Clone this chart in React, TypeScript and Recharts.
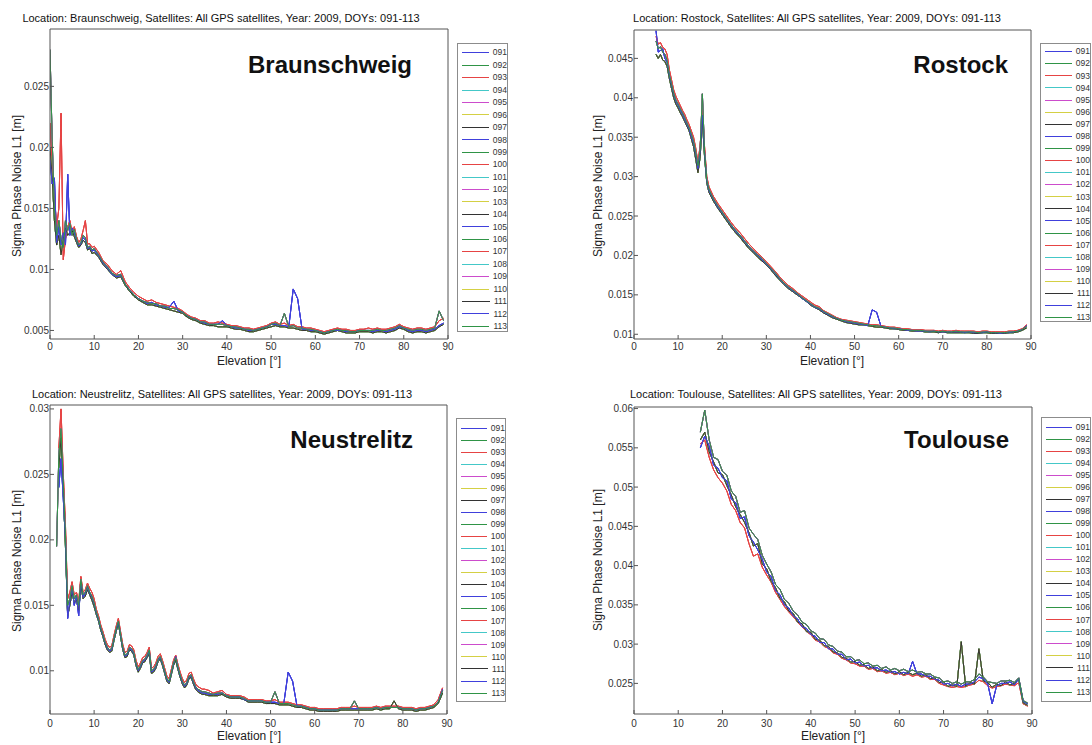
import { LineChart, Line, XAxis, YAxis, Legend } from 'recharts'

const FONT = '"Liberation Sans", Arial, sans-serif'

const DOYS = ['091', '092', '093', '094', '095', '096', '097', '098', '099', '100', '101', '102',
  '103', '104', '105', '106', '107', '108', '109', '110', '111', '112', '113']

// matlab colour cycle b g r c m y k
const LINE_COLORS = ['#4040dc', '#2f9446', '#e64444', '#44c8c8', '#cc4ccc', '#d4d044', '#333333']

// which read-off trace each day follows (days overlap almost completely)
const TRACE_OF_DOY = ['d', 'a', 'c', 'b', 'a', 'b', 'b', 'd', 'a', 'c', 'b', 'a',
  'b', 'b', 'd', 'a', 'c', 'b', 'a', 'b', 'b', 'd', 'a']

const X_TICKS = [0, 10, 20, 30, 40, 50, 60, 70, 80, 90]

// ---------- Braunschweig ----------
const bsElev = [
  0, 0.5, 1, 1.5, 2, 2.5, 3, 3.5, 4, 4.5,
  5, 5.5, 6, 6.5, 7, 7.5, 8, 8.5, 9, 9.5,
  10, 11, 12, 13, 14, 15, 16, 17, 18, 19,
  20, 21, 22, 23, 24, 25, 26, 27, 28, 29,
  30, 31, 32, 33, 34, 35, 36, 37, 38, 39,
  40, 41, 42, 43, 44, 45, 46, 47, 48, 49,
  50, 51, 52, 53, 54, 55, 56, 57, 58, 59,
  60, 61, 62, 63, 64, 65, 66, 67, 68, 69,
  70, 71, 72, 73, 74, 75, 76, 77, 78, 79,
  80, 81, 82, 83, 84, 85, 86, 87, 88, 89,
]
const bsA = [
  0.0280, 0.0205, 0.0150, 0.0128, 0.0140, 0.0125, 0.0118, 0.0140, 0.0132, 0.0138,
  0.0128, 0.0133, 0.0125, 0.0120, 0.0122, 0.0128, 0.0126, 0.0118, 0.0119, 0.0116,
  0.0117, 0.0112, 0.0106, 0.0102, 0.0097, 0.0095, 0.0096, 0.0088, 0.0083, 0.0079,
  0.0076, 0.0074, 0.0073, 0.0072, 0.0072, 0.0070, 0.0070, 0.0068, 0.0068, 0.0067,
  0.0065, 0.0062, 0.0060, 0.0059, 0.0057, 0.0057, 0.0055, 0.0055, 0.0055, 0.0055,
  0.0054, 0.0053, 0.0053, 0.0052, 0.0051, 0.0051, 0.0050, 0.0051, 0.0052, 0.0053,
  0.0055, 0.0056, 0.0054, 0.0064, 0.0053, 0.0054, 0.0052, 0.0052, 0.0051, 0.0051,
  0.0050, 0.0049, 0.0048, 0.0049, 0.0050, 0.0051, 0.0050, 0.0050, 0.0049, 0.0049,
  0.0050, 0.0050, 0.0050, 0.0050, 0.0051, 0.0050, 0.0050, 0.0051, 0.0052, 0.0054,
  0.0052, 0.0051, 0.0050, 0.0051, 0.0051, 0.0050, 0.0051, 0.0052, 0.0066, 0.0058,
]
const bsB = [
  0.0200, 0.0175, 0.0140, 0.0120, 0.0128, 0.0112, 0.0125, 0.0134, 0.0128, 0.0130,
  0.0132, 0.0127, 0.0122, 0.0118, 0.0120, 0.0124, 0.0122, 0.0116, 0.0117, 0.0113,
  0.0114, 0.0110, 0.0104, 0.0100, 0.0096, 0.0093, 0.0094, 0.0087, 0.0082, 0.0078,
  0.0075, 0.0073, 0.0071, 0.0071, 0.0070, 0.0069, 0.0068, 0.0067, 0.0066, 0.0065,
  0.0064, 0.0061, 0.0059, 0.0058, 0.0056, 0.0055, 0.0054, 0.0054, 0.0053, 0.0053,
  0.0053, 0.0052, 0.0051, 0.0051, 0.0050, 0.0049, 0.0049, 0.0050, 0.0051, 0.0052,
  0.0053, 0.0054, 0.0053, 0.0053, 0.0052, 0.0052, 0.0051, 0.0050, 0.0050, 0.0049,
  0.0049, 0.0048, 0.0047, 0.0048, 0.0049, 0.0050, 0.0049, 0.0048, 0.0048, 0.0048,
  0.0049, 0.0049, 0.0049, 0.0048, 0.0049, 0.0049, 0.0048, 0.0049, 0.0050, 0.0052,
  0.0051, 0.0049, 0.0048, 0.0049, 0.0049, 0.0048, 0.0049, 0.0050, 0.0053, 0.0055,
]
const bsC = [
  0.0220, 0.0185, 0.0160, 0.0135, 0.0150, 0.0228, 0.0108, 0.0125, 0.0135, 0.0140,
  0.0130, 0.0135, 0.0127, 0.0122, 0.0125, 0.0132, 0.0140, 0.0121, 0.0121, 0.0118,
  0.0119, 0.0114, 0.0107, 0.0104, 0.0099, 0.0096, 0.0099, 0.0090, 0.0085, 0.0081,
  0.0078, 0.0076, 0.0074, 0.0075, 0.0073, 0.0072, 0.0071, 0.0070, 0.0069, 0.0068,
  0.0066, 0.0063, 0.0061, 0.0060, 0.0058, 0.0058, 0.0056, 0.0056, 0.0057, 0.0056,
  0.0055, 0.0054, 0.0054, 0.0053, 0.0052, 0.0052, 0.0051, 0.0052, 0.0053, 0.0054,
  0.0056, 0.0057, 0.0055, 0.0056, 0.0054, 0.0055, 0.0053, 0.0053, 0.0052, 0.0052,
  0.0051, 0.0050, 0.0049, 0.0050, 0.0051, 0.0052, 0.0051, 0.0051, 0.0050, 0.0050,
  0.0051, 0.0051, 0.0052, 0.0051, 0.0052, 0.0051, 0.0051, 0.0052, 0.0053, 0.0055,
  0.0053, 0.0052, 0.0051, 0.0052, 0.0052, 0.0051, 0.0052, 0.0053, 0.0058, 0.0060,
]
const bsD = [
  0.0190, 0.0170, 0.0175, 0.0122, 0.0135, 0.0120, 0.0130, 0.0120, 0.0178, 0.0128,
  0.0134, 0.0130, 0.0124, 0.0119, 0.0121, 0.0126, 0.0124, 0.0117, 0.0118, 0.0115,
  0.0116, 0.0111, 0.0105, 0.0101, 0.0096, 0.0094, 0.0095, 0.0088, 0.0083, 0.0079,
  0.0076, 0.0074, 0.0072, 0.0073, 0.0071, 0.0070, 0.0069, 0.0069, 0.0074, 0.0066,
  0.0065, 0.0062, 0.0060, 0.0059, 0.0057, 0.0056, 0.0055, 0.0055, 0.0055, 0.0058,
  0.0054, 0.0053, 0.0052, 0.0052, 0.0051, 0.0050, 0.0050, 0.0051, 0.0052, 0.0053,
  0.0055, 0.0055, 0.0054, 0.0054, 0.0053, 0.0084, 0.0076, 0.0051, 0.0051, 0.0050,
  0.0050, 0.0049, 0.0048, 0.0049, 0.0050, 0.0050, 0.0050, 0.0049, 0.0049, 0.0049,
  0.0050, 0.0050, 0.0050, 0.0049, 0.0050, 0.0050, 0.0049, 0.0050, 0.0051, 0.0053,
  0.0052, 0.0050, 0.0049, 0.0050, 0.0050, 0.0049, 0.0050, 0.0051, 0.0054, 0.0056,
]
const bsTicks = [0.005, 0.01, 0.015, 0.02, 0.025]

// ---------- Rostock ----------
const rsElev = [
  5, 5.5, 6, 6.5, 7, 7.5, 8, 8.5, 9, 9.5,
  10, 10.5, 11, 11.5, 12, 12.5, 13, 13.5, 14, 14.5,
  15, 15.5, 16, 16.5, 17, 18, 19,
  20, 21, 22, 23, 24, 25, 26, 27, 28, 29,
  30, 31, 32, 33, 34, 35, 36, 37, 38, 39,
  40, 41, 42, 43, 44, 45, 46, 47, 48, 49,
  50, 51, 52, 53, 54, 55, 56, 57, 58, 59,
  60, 61, 62, 63, 64, 65, 66, 67, 68, 69,
  70, 71, 72, 73, 74, 75, 76, 77, 78, 79,
  80, 81, 82, 83, 84, 85, 86, 87, 88, 89,
]
const rsA = [
  0.0472, 0.0462, 0.0465, 0.0458, 0.0455, 0.0448, 0.0430, 0.0418, 0.0406, 0.0397,
  0.0392, 0.0386, 0.0381, 0.0375, 0.0368, 0.0362, 0.0354, 0.0345, 0.0331, 0.0314,
  0.0335, 0.0405, 0.0332, 0.0296, 0.0284, 0.0272, 0.0263,
  0.0255, 0.0247, 0.0239, 0.0232, 0.0226, 0.0219, 0.0212, 0.0206, 0.0201, 0.0196,
  0.0190, 0.0184, 0.0178, 0.0171, 0.0165, 0.0160, 0.0156, 0.0152, 0.0147, 0.0143,
  0.0139, 0.0135, 0.0133, 0.0129, 0.0126, 0.0123, 0.0120, 0.0118, 0.0117, 0.0116,
  0.0115, 0.0114, 0.0113, 0.0112, 0.0111, 0.0111, 0.0110, 0.0109, 0.0108, 0.0108,
  0.0107, 0.0106, 0.0106, 0.0105, 0.0105, 0.0105, 0.0104, 0.0104, 0.0104, 0.0103,
  0.0104, 0.0103, 0.0103, 0.0104, 0.0103, 0.0103, 0.0103, 0.0103, 0.0102, 0.0103,
  0.0103, 0.0102, 0.0102, 0.0102, 0.0102, 0.0103, 0.0103, 0.0104, 0.0106, 0.0110,
]
const rsB = [
  0.0455, 0.0450, 0.0455, 0.0448, 0.0446, 0.0440, 0.0425, 0.0412, 0.0400, 0.0392,
  0.0387, 0.0381, 0.0376, 0.0370, 0.0364, 0.0358, 0.0348, 0.0338, 0.0322, 0.0305,
  0.0325, 0.0372, 0.0325, 0.0292, 0.0280, 0.0269, 0.0260,
  0.0252, 0.0244, 0.0236, 0.0229, 0.0223, 0.0216, 0.0209, 0.0204, 0.0198, 0.0193,
  0.0188, 0.0182, 0.0175, 0.0169, 0.0163, 0.0158, 0.0154, 0.0150, 0.0146, 0.0142,
  0.0137, 0.0134, 0.0131, 0.0127, 0.0124, 0.0121, 0.0119, 0.0117, 0.0115, 0.0114,
  0.0113, 0.0112, 0.0112, 0.0111, 0.0110, 0.0109, 0.0109, 0.0108, 0.0107, 0.0107,
  0.0106, 0.0105, 0.0105, 0.0104, 0.0104, 0.0104, 0.0103, 0.0103, 0.0103, 0.0102,
  0.0103, 0.0102, 0.0102, 0.0102, 0.0102, 0.0102, 0.0102, 0.0101, 0.0101, 0.0102,
  0.0102, 0.0101, 0.0101, 0.0101, 0.0101, 0.0102, 0.0102, 0.0103, 0.0105, 0.0108,
]
const rsC = [
  0.0478, 0.0468, 0.0470, 0.0464, 0.0462, 0.0455, 0.0436, 0.0423, 0.0410, 0.0402,
  0.0396, 0.0390, 0.0384, 0.0379, 0.0372, 0.0366, 0.0358, 0.0350, 0.0336, 0.0318,
  0.0340, 0.0385, 0.0338, 0.0300, 0.0287, 0.0275, 0.0266,
  0.0258, 0.0250, 0.0242, 0.0235, 0.0229, 0.0222, 0.0215, 0.0209, 0.0203, 0.0198,
  0.0192, 0.0186, 0.0180, 0.0173, 0.0167, 0.0162, 0.0158, 0.0153, 0.0149, 0.0145,
  0.0141, 0.0137, 0.0135, 0.0130, 0.0127, 0.0124, 0.0121, 0.0119, 0.0118, 0.0117,
  0.0116, 0.0115, 0.0114, 0.0113, 0.0112, 0.0112, 0.0111, 0.0110, 0.0109, 0.0109,
  0.0108, 0.0107, 0.0107, 0.0106, 0.0106, 0.0106, 0.0105, 0.0105, 0.0105, 0.0104,
  0.0105, 0.0104, 0.0104, 0.0105, 0.0104, 0.0104, 0.0104, 0.0104, 0.0103, 0.0104,
  0.0104, 0.0103, 0.0103, 0.0103, 0.0103, 0.0104, 0.0104, 0.0105, 0.0107, 0.0112,
]
const rsD = [
  0.0485, 0.0458, 0.0460, 0.0462, 0.0450, 0.0445, 0.0428, 0.0416, 0.0404, 0.0395,
  0.0390, 0.0384, 0.0379, 0.0372, 0.0366, 0.0360, 0.0350, 0.0342, 0.0328, 0.0310,
  0.0332, 0.0378, 0.0330, 0.0294, 0.0282, 0.0271, 0.0261,
  0.0254, 0.0246, 0.0238, 0.0231, 0.0225, 0.0218, 0.0211, 0.0205, 0.0200, 0.0195,
  0.0189, 0.0183, 0.0177, 0.0170, 0.0164, 0.0159, 0.0155, 0.0151, 0.0146, 0.0142,
  0.0138, 0.0134, 0.0132, 0.0128, 0.0125, 0.0122, 0.0120, 0.0118, 0.0116, 0.0115,
  0.0114, 0.0113, 0.0112, 0.0111, 0.0131, 0.0128, 0.0110, 0.0109, 0.0108, 0.0107,
  0.0107, 0.0106, 0.0105, 0.0105, 0.0104, 0.0104, 0.0104, 0.0103, 0.0104, 0.0103,
  0.0103, 0.0103, 0.0103, 0.0103, 0.0103, 0.0102, 0.0103, 0.0102, 0.0102, 0.0102,
  0.0103, 0.0102, 0.0102, 0.0101, 0.0102, 0.0102, 0.0103, 0.0104, 0.0106, 0.0111,
]
const rsTicks = [0.01, 0.015, 0.02, 0.025, 0.03, 0.035, 0.04, 0.045]

// ---------- Neustrelitz ----------
const nsElev = [
  1.5,
  2, 2.5, 3, 3.5, 4, 4.5, 5, 5.5, 6, 6.5,
  7, 7.5, 8, 8.5, 9, 9.5, 10, 10.5, 11, 11.5,
  12, 12.5, 13, 13.5, 14, 14.5, 15, 15.5, 16, 16.5,
  17, 17.5, 18, 18.5, 19, 19.5, 20, 20.5, 21, 21.5,
  22, 22.5, 23, 23.5, 24, 24.5, 25, 25.5, 26, 26.5,
  27, 27.5, 28, 28.5, 29, 29.5, 30, 30.5, 31, 31.5,
  32, 32.5, 33, 33.5, 34, 34.5,
  35, 36, 37, 38, 39,
  40, 41, 42, 43, 44, 45, 46, 47, 48, 49,
  50, 51, 52, 53, 54, 55, 56, 57, 58, 59,
  60, 61, 62, 63, 64, 65, 66, 67, 68, 69,
  70, 71, 72, 73, 74, 75, 76, 77, 78, 79,
  80, 81, 82, 83, 84, 85, 86, 87, 88, 89,
]
const nsA = [
  0.0195,
  0.0265, 0.0285, 0.0245, 0.0205, 0.0150, 0.0155, 0.0165, 0.0155, 0.0158, 0.0150,
  0.0170, 0.0158, 0.0160, 0.0165, 0.0160, 0.0157, 0.0152, 0.0145, 0.0140, 0.0133,
  0.0128, 0.0122, 0.0118, 0.0116, 0.0117, 0.0125, 0.0132, 0.0138, 0.0128, 0.0118,
  0.0112, 0.0113, 0.0118, 0.0117, 0.0114, 0.0106, 0.0101, 0.0104, 0.0108, 0.0109,
  0.0112, 0.0116, 0.0100, 0.0101, 0.0104, 0.0109, 0.0111, 0.0106, 0.0100, 0.0094,
  0.0092, 0.0099, 0.0106, 0.0110, 0.0103, 0.0097, 0.0092, 0.0089, 0.0091, 0.0096,
  0.0097, 0.0092, 0.0088, 0.0086, 0.0085, 0.0084,
  0.0084, 0.0083, 0.0082, 0.0083, 0.0083,
  0.0081, 0.0080, 0.0080, 0.0080, 0.0079, 0.0077, 0.0077, 0.0077, 0.0077, 0.0076,
  0.0076, 0.0084, 0.0075, 0.0075, 0.0075, 0.0074, 0.0073, 0.0073, 0.0072, 0.0071,
  0.0071, 0.0070, 0.0070, 0.0070, 0.0070, 0.0070, 0.0071, 0.0071, 0.0071, 0.0077,
  0.0071, 0.0071, 0.0071, 0.0071, 0.0072, 0.0071, 0.0072, 0.0072, 0.0072, 0.0072,
  0.0071, 0.0071, 0.0071, 0.0070, 0.0071, 0.0071, 0.0072, 0.0073, 0.0076, 0.0085,
]
const nsB = [
  null,
  0.0255, 0.0278, 0.0238, 0.0195, 0.0142, 0.0150, 0.0160, 0.0152, 0.0154, 0.0146,
  0.0165, 0.0155, 0.0157, 0.0162, 0.0158, 0.0154, 0.0149, 0.0143, 0.0138, 0.0131,
  0.0126, 0.0120, 0.0116, 0.0114, 0.0115, 0.0123, 0.0130, 0.0136, 0.0126, 0.0116,
  0.0110, 0.0111, 0.0116, 0.0115, 0.0112, 0.0104, 0.0099, 0.0102, 0.0106, 0.0107,
  0.0110, 0.0113, 0.0098, 0.0099, 0.0102, 0.0107, 0.0109, 0.0104, 0.0098, 0.0092,
  0.0090, 0.0097, 0.0104, 0.0108, 0.0101, 0.0095, 0.0090, 0.0087, 0.0089, 0.0094,
  0.0095, 0.0090, 0.0086, 0.0084, 0.0083, 0.0082,
  0.0082, 0.0081, 0.0081, 0.0081, 0.0082,
  0.0080, 0.0079, 0.0079, 0.0079, 0.0078, 0.0076, 0.0076, 0.0076, 0.0076, 0.0075,
  0.0075, 0.0075, 0.0074, 0.0074, 0.0074, 0.0073, 0.0072, 0.0072, 0.0071, 0.0070,
  0.0070, 0.0069, 0.0069, 0.0069, 0.0069, 0.0069, 0.0070, 0.0070, 0.0070, 0.0070,
  0.0070, 0.0070, 0.0070, 0.0070, 0.0071, 0.0070, 0.0071, 0.0071, 0.0077, 0.0071,
  0.0070, 0.0070, 0.0070, 0.0069, 0.0070, 0.0070, 0.0071, 0.0072, 0.0075, 0.0083,
]
const nsC = [
  null,
  0.0270, 0.0300, 0.0252, 0.0212, 0.0155, 0.0160, 0.0168, 0.0158, 0.0160, 0.0153,
  0.0172, 0.0160, 0.0162, 0.0167, 0.0163, 0.0160, 0.0155, 0.0147, 0.0142, 0.0135,
  0.0130, 0.0124, 0.0120, 0.0118, 0.0119, 0.0127, 0.0134, 0.0140, 0.0130, 0.0120,
  0.0114, 0.0115, 0.0120, 0.0119, 0.0116, 0.0108, 0.0103, 0.0106, 0.0110, 0.0111,
  0.0114, 0.0118, 0.0102, 0.0103, 0.0106, 0.0111, 0.0113, 0.0108, 0.0102, 0.0096,
  0.0094, 0.0101, 0.0108, 0.0112, 0.0105, 0.0099, 0.0094, 0.0091, 0.0093, 0.0098,
  0.0099, 0.0094, 0.0090, 0.0088, 0.0087, 0.0086,
  0.0086, 0.0085, 0.0083, 0.0084, 0.0085,
  0.0082, 0.0081, 0.0081, 0.0081, 0.0080, 0.0078, 0.0078, 0.0078, 0.0078, 0.0077,
  0.0077, 0.0078, 0.0076, 0.0076, 0.0076, 0.0075, 0.0074, 0.0074, 0.0073, 0.0072,
  0.0072, 0.0071, 0.0071, 0.0071, 0.0071, 0.0071, 0.0072, 0.0072, 0.0072, 0.0073,
  0.0072, 0.0072, 0.0072, 0.0072, 0.0073, 0.0072, 0.0073, 0.0073, 0.0073, 0.0073,
  0.0072, 0.0072, 0.0072, 0.0071, 0.0072, 0.0072, 0.0073, 0.0074, 0.0078, 0.0087,
]
const nsD = [
  null,
  0.0240, 0.0262, 0.0232, 0.0200, 0.0140, 0.0153, 0.0163, 0.0150, 0.0157, 0.0142,
  0.0168, 0.0156, 0.0159, 0.0164, 0.0159, 0.0156, 0.0151, 0.0144, 0.0139, 0.0132,
  0.0127, 0.0121, 0.0117, 0.0115, 0.0116, 0.0124, 0.0131, 0.0137, 0.0127, 0.0117,
  0.0111, 0.0112, 0.0117, 0.0116, 0.0113, 0.0105, 0.0100, 0.0103, 0.0107, 0.0108,
  0.0111, 0.0115, 0.0099, 0.0100, 0.0103, 0.0108, 0.0110, 0.0105, 0.0099, 0.0093,
  0.0091, 0.0098, 0.0105, 0.0111, 0.0102, 0.0096, 0.0091, 0.0088, 0.0090, 0.0095,
  0.0096, 0.0091, 0.0087, 0.0085, 0.0084, 0.0083,
  0.0083, 0.0082, 0.0082, 0.0082, 0.0083,
  0.0081, 0.0080, 0.0080, 0.0080, 0.0078, 0.0077, 0.0077, 0.0077, 0.0077, 0.0076,
  0.0076, 0.0076, 0.0075, 0.0075, 0.0099, 0.0092, 0.0073, 0.0073, 0.0072, 0.0071,
  0.0071, 0.0070, 0.0070, 0.0070, 0.0070, 0.0070, 0.0071, 0.0071, 0.0071, 0.0071,
  0.0071, 0.0071, 0.0071, 0.0071, 0.0072, 0.0071, 0.0072, 0.0072, 0.0072, 0.0072,
  0.0071, 0.0071, 0.0071, 0.0070, 0.0071, 0.0071, 0.0072, 0.0073, 0.0076, 0.0086,
]
const nsTicks = [0.01, 0.015, 0.02, 0.025, 0.03]

// ---------- Toulouse ----------
const tlElev = [
  15, 16, 17, 18, 19,
  20, 21, 22, 23, 24, 25, 26, 27, 28, 29,
  30, 31, 32, 33, 34, 35, 36, 37, 38, 39,
  40, 41, 42, 43, 44, 45, 46, 47, 48, 49,
  50, 51, 52, 53, 54, 55, 56, 57, 58, 59,
  60, 61, 62, 63, 64, 65, 66, 67, 68, 69,
  70, 71, 72, 73, 74, 75, 76, 77, 78, 79,
  80, 81, 82, 83, 84, 85, 86, 87, 88, 89,
]
const tlA = [
  0.0570, 0.0598, 0.0560, 0.0538, 0.0535,
  0.0520, 0.0515, 0.0495, 0.0488, 0.0468, 0.0470, 0.0448, 0.0440, 0.0433, 0.0413,
  0.0402, 0.0392, 0.0376, 0.0370, 0.0357, 0.0352, 0.0342, 0.0337, 0.0328, 0.0325,
  0.0317, 0.0314, 0.0307, 0.0306, 0.0299, 0.0297, 0.0291, 0.0290, 0.0284, 0.0284,
  0.0279, 0.0280, 0.0275, 0.0276, 0.0272, 0.0273, 0.0269, 0.0271, 0.0267, 0.0269,
  0.0266, 0.0268, 0.0265, 0.0267, 0.0264, 0.0265, 0.0262, 0.0262, 0.0258, 0.0257,
  0.0252, 0.0253, 0.0250, 0.0252, 0.0249, 0.0252, 0.0252, 0.0255, 0.0262, 0.0258,
  0.0252, 0.0251, 0.0250, 0.0253, 0.0253, 0.0254, 0.0251, 0.0257, 0.0228, 0.0225,
]
const tlB = [
  0.0560, 0.0570, 0.0545, 0.0532, 0.0518,
  0.0516, 0.0502, 0.0490, 0.0475, 0.0465, 0.0455, 0.0442, 0.0425, 0.0428, 0.0402,
  0.0396, 0.0380, 0.0372, 0.0358, 0.0354, 0.0342, 0.0339, 0.0328, 0.0326, 0.0316,
  0.0315, 0.0306, 0.0305, 0.0298, 0.0297, 0.0290, 0.0289, 0.0283, 0.0282, 0.0277,
  0.0278, 0.0273, 0.0274, 0.0269, 0.0271, 0.0266, 0.0268, 0.0264, 0.0266, 0.0262,
  0.0265, 0.0261, 0.0264, 0.0261, 0.0263, 0.0259, 0.0261, 0.0256, 0.0257, 0.0251,
  0.0252, 0.0246, 0.0248, 0.0246, 0.0303, 0.0246, 0.0251, 0.0249, 0.0294, 0.0253,
  0.0251, 0.0245, 0.0249, 0.0247, 0.0252, 0.0248, 0.0250, 0.0255, 0.0225, 0.0222,
]
const tlC = [
  0.0555, 0.0560, 0.0538, 0.0522, 0.0512,
  0.0505, 0.0495, 0.0478, 0.0470, 0.0455, 0.0448, 0.0428, 0.0412, 0.0415, 0.0398,
  0.0388, 0.0379, 0.0366, 0.0357, 0.0348, 0.0341, 0.0335, 0.0328, 0.0322, 0.0316,
  0.0312, 0.0305, 0.0303, 0.0297, 0.0295, 0.0289, 0.0287, 0.0282, 0.0280, 0.0276,
  0.0275, 0.0272, 0.0272, 0.0268, 0.0269, 0.0265, 0.0266, 0.0263, 0.0264, 0.0261,
  0.0263, 0.0260, 0.0262, 0.0259, 0.0261, 0.0258, 0.0259, 0.0255, 0.0255, 0.0250,
  0.0248, 0.0246, 0.0245, 0.0246, 0.0245, 0.0246, 0.0248, 0.0249, 0.0254, 0.0252,
  0.0247, 0.0244, 0.0246, 0.0247, 0.0249, 0.0248, 0.0247, 0.0251, 0.0224, 0.0221,
]
const tlD = [
  0.0550, 0.0565, 0.0552, 0.0528, 0.0524,
  0.0512, 0.0508, 0.0485, 0.0480, 0.0460, 0.0462, 0.0438, 0.0430, 0.0420, 0.0408,
  0.0392, 0.0386, 0.0368, 0.0363, 0.0350, 0.0346, 0.0336, 0.0332, 0.0322, 0.0320,
  0.0312, 0.0310, 0.0302, 0.0302, 0.0294, 0.0294, 0.0287, 0.0287, 0.0280, 0.0281,
  0.0276, 0.0277, 0.0272, 0.0273, 0.0269, 0.0270, 0.0266, 0.0267, 0.0264, 0.0265,
  0.0262, 0.0264, 0.0262, 0.0278, 0.0262, 0.0262, 0.0259, 0.0259, 0.0255, 0.0254,
  0.0249, 0.0250, 0.0247, 0.0249, 0.0246, 0.0249, 0.0249, 0.0252, 0.0258, 0.0256,
  0.0249, 0.0224, 0.0247, 0.0250, 0.0250, 0.0252, 0.0248, 0.0256, 0.0227, 0.0224,
]
const tlTicks = [0.025, 0.03, 0.035, 0.04, 0.045, 0.05, 0.055, 0.06]

// axis boxes: left axis 45 wide, bottom axis 20 high, top / right frame axes 5
const PANELS = [
  {
    name: 'Braunschweig', left: 0, top: 0, width: 546, height: 372,
    margin: { top: 24, right: 93, bottom: 13, left: 5 },
    elev: bsElev, traces: { a: bsA, b: bsB, c: bsC, d: bsD },
    yDomain: [0.0043, 0.0297], yTicks: bsTicks, xTickMargin: 8,
    legend: { left: 457, top: 43, width: 51, height: 289, rowH: 12.45, padTop: 2.5 },
  },
  {
    name: 'Rostock', left: 546, top: 0, width: 546, height: 372,
    margin: { top: 25, right: 56, bottom: 13, left: 43 },
    elev: rsElev, traces: { a: rsA, b: rsB, c: rsC, d: rsD },
    yDomain: [0.0094, 0.0486], yTicks: rsTicks, xTickMargin: 8,
    legend: { left: 494, top: 43, width: 51, height: 279, rowH: 12.1, padTop: 1.6 },
  },
  {
    name: 'Neustrelitz', left: 0, top: 372, width: 546, height: 373,
    margin: { top: 28, right: 94, bottom: 11, left: 5 },
    elev: nsElev, traces: { a: nsA, b: nsB, c: nsC, d: nsD },
    yDomain: [0.0067, 0.0303], yTicks: nsTicks, xTickMargin: 10,
    legend: { left: 456, top: 46, width: 50, height: 284, rowH: 12.05, padTop: 3 },
  },
  {
    name: 'Toulouse', left: 546, top: 372, width: 546, height: 373,
    margin: { top: 30, right: 55, bottom: 11, left: 43 },
    elev: tlElev, traces: { a: tlA, b: tlB, c: tlC, d: tlD },
    yDomain: [0.0211, 0.0602], yTicks: tlTicks, xTickMargin: 10,
    legend: { left: 495, top: 45, width: 50, height: 285, rowH: 12.05, padTop: 3 },
  },
]

function buildRows(elev, traces) {
  return elev.map((el, i) => {
    const row = { el }
    DOYS.forEach((doy, k) => {
      row['d' + doy] = traces[TRACE_OF_DOY[k]][i]
    })
    return row
  })
}

function DoyLegend({ payload, cfg }) {
  const items = [...(payload || [])].sort((a, b) => String(a.value).localeCompare(String(b.value)))
  return (
    <div
      style={{
        boxSizing: 'border-box',
        width: cfg.width,
        height: cfg.height,
        border: '1px solid #8c8c8c',
        background: '#fff',
        paddingTop: cfg.padTop,
        fontFamily: FONT,
      }}
    >
      {items.map((it) => (
        <div key={it.value} style={{ display: 'flex', alignItems: 'center', height: cfg.rowH }}>
          <span style={{ width: 28, marginLeft: 4, borderTop: `1px solid ${it.color}` }} />
          <span style={{ marginLeft: 4, fontSize: 8.5, lineHeight: 1, color: '#333' }}>{it.value}</span>
        </div>
      ))}
    </div>
  )
}

function Panel({ cfg }) {
  const rows = buildRows(cfg.elev, cfg.traces)
  const tickStyle = { fontSize: 10, fill: '#333', fontFamily: FONT }
  return (
    <div style={{ position: 'absolute', left: cfg.left, top: cfg.top, width: cfg.width, height: cfg.height }}>
      <LineChart width={cfg.width} height={cfg.height} data={rows} margin={cfg.margin}>
        <XAxis
          dataKey="el"
          type="number"
          domain={[0, 90]}
          ticks={X_TICKS}
          interval={0}
          height={20}
          tickSize={-4}
          tickMargin={cfg.xTickMargin}
          tick={tickStyle}
          stroke="#555"
          allowDataOverflow
        />
        <XAxis
          xAxisId="top"
          dataKey="el"
          type="number"
          orientation="top"
          domain={[0, 90]}
          ticks={X_TICKS}
          interval={0}
          height={5}
          tickSize={-4}
          tick={false}
          stroke="#555"
          allowDataOverflow
        />
        <YAxis
          type="number"
          domain={cfg.yDomain}
          ticks={cfg.yTicks}
          interval={0}
          width={45}
          tickSize={-4}
          tickMargin={5}
          tick={tickStyle}
          tickFormatter={(v) => String(v)}
          stroke="#555"
          allowDataOverflow
        />
        <YAxis
          yAxisId="right"
          orientation="right"
          type="number"
          domain={cfg.yDomain}
          ticks={cfg.yTicks}
          interval={0}
          width={5}
          tickSize={-4}
          tick={false}
          stroke="#555"
          allowDataOverflow
        />
        <Legend
          layout="vertical"
          align="center"
          verticalAlign="middle"
          wrapperStyle={{
            left: cfg.legend.left,
            top: cfg.legend.top,
            width: cfg.legend.width,
            height: cfg.legend.height,
          }}
          content={(props) => <DoyLegend payload={props.payload} cfg={cfg.legend} />}
        />
        {DOYS.map((doy, k) => (
          <Line
            key={doy}
            dataKey={'d' + doy}
            name={doy}
            stroke={LINE_COLORS[k % 7]}
            strokeWidth={1}
            dot={false}
            activeDot={false}
            isAnimationActive={false}
          />
        ))}
      </LineChart>
    </div>
  )
}

const TITLES = [
  { text: 'Location: Braunschweig, Satellites: All GPS satellites, Year: 2009, DOYs: 091-113', x: 221, y: 18 },
  { text: 'Location: Rostock, Satellites: All GPS satellites, Year: 2009, DOYs: 091-113', x: 817, y: 18 },
  { text: 'Location: Neustrelitz, Satellites: All GPS satellites, Year: 2009, DOYs: 091-113', x: 222, y: 394 },
  { text: 'Location: Toulouse, Satellites: All GPS satellites, Year: 2009, DOYs: 091-113', x: 816, y: 394 },
]
const NAMES = [
  { text: 'Braunschweig', x: 412, y: 73 },
  { text: 'Rostock', x: 1008, y: 73 },
  { text: 'Neustrelitz', x: 413, y: 448 },
  { text: 'Toulouse', x: 1009, y: 448 },
]
const X_TITLES = [
  { x: 249, y: 361 },
  { x: 832, y: 361 },
  { x: 249, y: 736 },
  { x: 833, y: 736 },
]
const Y_TITLES = [
  { x: 16.5, y: 186 },
  { x: 598, y: 186 },
  { x: 16.5, y: 561 },
  { x: 598, y: 560 },
]

export default function App() {
  return (
    <div style={{ position: 'absolute', left: 0, top: 0, width: 1092, height: 745, background: '#fff', overflow: 'hidden' }}>
      {PANELS.map((p) => (
        <Panel key={p.name} cfg={p} />
      ))}
      <svg
        width={1092}
        height={745}
        style={{ position: 'absolute', left: 0, top: 0, pointerEvents: 'none' }}
        fontFamily={FONT}
      >
        {TITLES.map((t) => (
          <text key={t.text} x={t.x} y={t.y} fontSize={11} fill="#111" textAnchor="middle" dominantBaseline="central">
            {t.text}
          </text>
        ))}
        {NAMES.map((t) => (
          <text key={t.text} x={t.x} y={t.y} fontSize={24} fontWeight="bold" fill="#111" textAnchor="end">
            {t.text}
          </text>
        ))}
        {X_TITLES.map((t, i) => (
          <text key={'x' + i} x={t.x} y={t.y} fontSize={12} fill="#222" textAnchor="middle" dominantBaseline="central">
            Elevation [°]
          </text>
        ))}
        {Y_TITLES.map((t, i) => (
          <text
            key={'y' + i}
            x={t.x}
            y={t.y}
            fontSize={12}
            fill="#222"
            textAnchor="middle"
            dominantBaseline="central"
            transform={`rotate(-90 ${t.x} ${t.y})`}
          >
            Sigma Phase Noise L1 [m]
          </text>
        ))}
      </svg>
    </div>
  )
}
